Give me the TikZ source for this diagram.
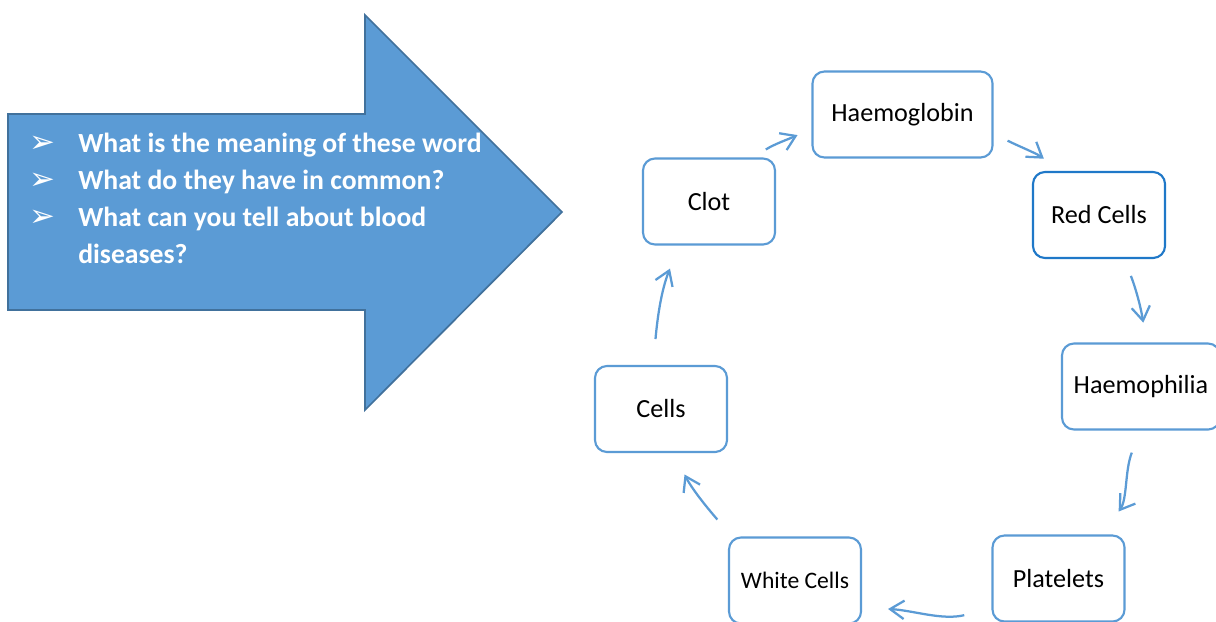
\documentclass[tikz,border=0pt]{standalone}
\usepackage{fontspec}
\setmainfont{Carlito}
\newfontfamily\simbolos{DejaVu Sans}
\usetikzlibrary{arrows.meta}
\definecolor{azul}{HTML}{5B9BD5}
\definecolor{azulborde}{HTML}{41719C}
\definecolor{azulfuerte}{HTML}{1F78C8}
\tikzset{
  caja/.style={rectangle, draw=azul, fill=white, line width=1.5pt,
               minimum width=3.3cm, minimum height=2.15cm,
               align=center, font=\fontsize{18.6}{22}\selectfont, rounded corners=0.3cm},
  flecha/.style={-{Straight Barb[length=3.5mm, width=4.6mm]}, draw=azul, line width=1.6pt},
  grande/.style={fill=azul, draw=azulborde, line width=1.2pt},
  pregunta/.style={anchor=base west, text=white, inner sep=0pt,
                   font=\bfseries\fontsize{19.7}{24}\selectfont},
  vineta/.style={anchor=base, text=white, inner sep=0pt,
                 font=\simbolos\fontsize{22}{24}\selectfont}
}
\begin{document}
\begin{tikzpicture}[x=0.025cm, y=0.025cm]
  \clip (0,0) rectangle (1216,-621);
  \fill[white] (0,0) rectangle (1216,-621);
  \draw[grande] (8,-114) -- (365,-114) -- (365,-15) -- (562,-212) -- (365,-410)
    -- (365,-310) -- (8,-310) -- cycle;
  \foreach \y/\txt [count=\i] in {152/What is the meaning of these word,
      189/What do they have in common?, 226/What can you tell about blood} {
    \node[vineta] (v\i) at (42,-\y) {➢};
    \node[pregunta] (p\i) at (78,-\y) {\txt};
  }
  \node[pregunta] (p4) at (78,-263) {diseases?};

  \node[caja, minimum width=4.5cm] (haemo) at (902.5,-114.5) {Haemoglobin};
  \node[caja, draw=azulfuerte] (red) at (1099,-215) {Red Cells};
  \node[caja, minimum width=3.95cm] (philia) at (1141,-386.5) {Haemophilia};
  \node[caja] (plat) at (1058.5,-578.5) {Platelets};
  \node[caja, font=\fontsize{16.8}{20}\selectfont] (white) at (795,-580.5) {White Cells};
  \node[caja] (cells) at (661,-409) {Cells};
  \node[caja] (clot) at (709,-201.5) {Clot};

  \draw[flecha, shorten <=0.375cm, shorten >=0.38cm] (clot.45) to[out=32, in=204] (haemo.189);
  \draw[flecha, shorten <=0.39cm, shorten >=0.52cm] (haemo.348) to[out=-26, in=144] (red.131);
  \draw[flecha, shorten <=0.45cm, shorten >=0.5cm] (red.-60) to[out=-69, in=99] (philia.83);
  \draw[flecha, shorten <=0.59cm, shorten >=0.7cm] (philia.-91) to[out=-111, in=55] (plat.45);
  \draw[flecha, shorten <=0.7cm, shorten >=0.65cm] (plat.204) to[out=194, in=-3] (white.-22);
  \draw[flecha, shorten <=0.56cm, shorten >=0.6cm] (white.145) to[out=131, in=-63] (cells.-74);
  \draw[flecha, shorten <=0.65cm, shorten >=0.62cm] (cells.100) to[out=85, in=-112] (clot.236);
\end{tikzpicture}
\end{document}
